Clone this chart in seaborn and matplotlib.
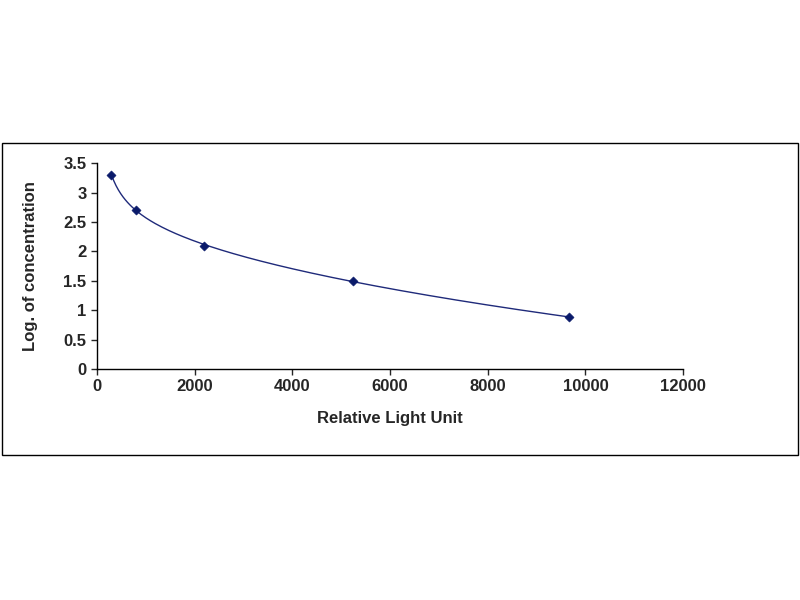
import numpy as np
import pandas as pd
import seaborn as sns
import matplotlib.pyplot as plt
from matplotlib.patches import Rectangle

# Standard curve values
rlu = [300, 810, 2200, 5250, 9660]
log_conc = [3.3, 2.7, 2.1, 1.5, 0.88]

df = pd.DataFrame({"rlu": rlu, "log_conc": log_conc})

sns.set_style("white")
plt.rcParams["font.family"] = ["Arial", "Liberation Sans", "DejaVu Sans"]

fig = plt.figure(figsize=(8, 6), dpi=100)
fig.patches.append(Rectangle((0.003, 0.242), 0.994, 0.52, transform=fig.transFigure,
                             fill=False, edgecolor="black", linewidth=1))
ax = fig.add_axes([0.121, 0.385, 0.733, 0.343])

# smooth trend line through the standards
coef = np.polyfit(np.log(df["rlu"]), df["log_conc"], 3)
xs = np.linspace(df["rlu"].min(), df["rlu"].max(), 200)
ax.plot(xs, np.polyval(coef, np.log(xs)), color="#1f2a7a", linewidth=1)
sns.scatterplot(data=df, x="rlu", y="log_conc", marker="D", s=22,
                color="#0a1a6a", edgecolor="#0a1a6a", ax=ax, zorder=3)

ax.set_xlim(0, 12000)
ax.set_ylim(0, 3.5)
ax.set_xticks(range(0, 12001, 2000))
ax.set_yticks(np.arange(0, 3.51, 0.5))
ax.set_yticklabels(["0", "0.5", "1", "1.5", "2", "2.5", "3", "3.5"])
ax.tick_params(axis="both", labelsize=12, direction="out", length=4, width=1,
               bottom=True, left=True)
for t in ax.get_xticklabels() + ax.get_yticklabels():
    t.set_fontweight("bold")
ax.set_xlabel("Relative Light Unit", fontsize=12, fontweight="bold", labelpad=12)
ax.set_ylabel("Log. of concentration", fontsize=12, fontweight="bold", labelpad=18)
sns.despine(ax=ax)
for s in ["left", "bottom"]:
    ax.spines[s].set_color("black")
    ax.spines[s].set_linewidth(1)

fig.savefig("out.png", dpi=100)
